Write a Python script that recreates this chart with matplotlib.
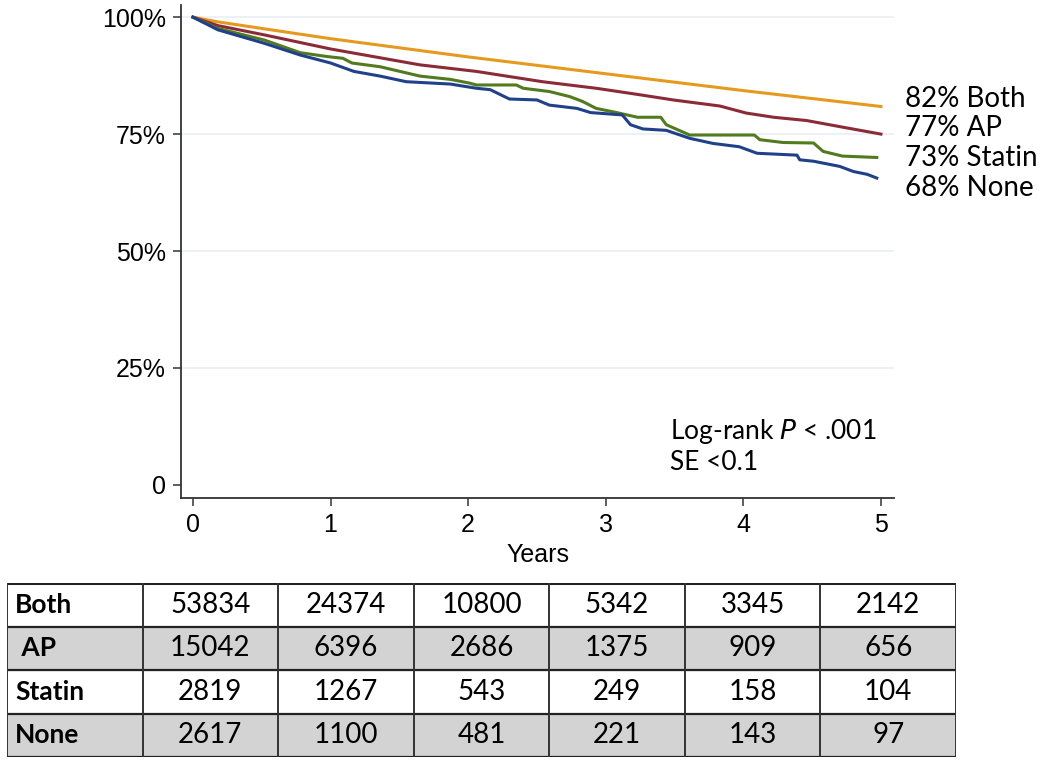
import matplotlib
matplotlib.use("Agg")
import matplotlib.pyplot as plt
from matplotlib.ticker import FixedLocator

# Kaplan-Meier curves (years, survival fraction)
both_t = [0, 0.18, 0.52, 1.0, 2.0, 3.0, 4.0, 5.0]
both_s = [1.0, 0.99, 0.975, 0.954, 0.915, 0.879, 0.843, 0.809]

ap_t = [0, 0.18, 0.52, 1.0, 1.65, 2.06, 2.54, 2.93, 3.25, 3.49, 3.83, 4.02, 4.22, 4.46, 4.70, 5.0]
ap_s = [1.0, 0.982, 0.962, 0.932, 0.898, 0.884, 0.862, 0.848, 0.834, 0.823, 0.810, 0.795, 0.786, 0.779, 0.766, 0.750]

statin_t = [0, 0.18, 0.52, 0.78, 0.97, 1.09, 1.155, 1.36, 1.65, 1.87, 2.01, 2.06, 2.35, 2.40,
            2.59, 2.74, 2.83, 2.93, 3.08, 3.23, 3.40, 3.44, 3.61, 4.08, 4.12, 4.29, 4.51, 4.58, 4.72, 4.97]
statin_s = [1.0, 0.976, 0.951, 0.924, 0.916, 0.912, 0.902, 0.894, 0.874, 0.867, 0.859, 0.855, 0.855, 0.848,
            0.841, 0.830, 0.820, 0.805, 0.796, 0.786, 0.786, 0.770, 0.748, 0.748, 0.738, 0.732, 0.731, 0.713, 0.703, 0.700]

none_t = [0, 0.18, 0.52, 0.78, 1.0, 1.17, 1.36, 1.55, 1.87, 2.06, 2.16, 2.30, 2.50, 2.59, 2.79, 2.89,
          3.12, 3.18, 3.27, 3.44, 3.61, 3.78, 3.97, 4.10, 4.39, 4.41, 4.51, 4.70, 4.80, 4.90, 4.97]
none_s = [1.0, 0.973, 0.944, 0.919, 0.902, 0.884, 0.874, 0.862, 0.857, 0.848, 0.845, 0.825, 0.823, 0.812, 0.805, 0.796,
          0.791, 0.770, 0.761, 0.758, 0.741, 0.730, 0.723, 0.709, 0.705, 0.695, 0.692, 0.681, 0.670, 0.664, 0.656]

end_labels = ['82% Both', '77% AP', '73% Statin', '68% None']

y_ticks = [0, 0.25, 0.5, 0.75, 1.0]
y_tick_labels = ['0', '25%', '50%', '75%', '100%']
x_ticks = [0, 1, 2, 3, 4, 5]

# numbers at risk
risk_groups = ['Both', ' AP', 'Statin', 'None']
risk_both = [53834, 24374, 10800, 5342, 3345, 2142]
risk_ap = [15042, 6396, 2686, 1375, 909, 656]
risk_statin = [2819, 1267, 543, 249, 158, 104]
risk_none = [2617, 1100, 481, 221, 143, 97]

C_BOTH = '#e59a1f'
C_AP = '#8b2b37'
C_STATIN = '#527a1e'
C_NONE = '#20418a'

TICK_FONT = 'Liberation Sans'
TEXT_FONT = 'Lato'

fig = plt.figure(figsize=(10.5, 7.6), dpi=100)
ax = fig.add_axes([181 / 1050, 1 - 498 / 760, (894 - 181) / 1050, (498 - 5) / 760])

ax.plot(both_t, both_s, color=C_BOTH, lw=2.2)
ax.plot(ap_t, ap_s, color=C_AP, lw=2.2)
ax.plot(statin_t, statin_s, color=C_STATIN, lw=2.2)
ax.plot(none_t, none_s, color=C_NONE, lw=2.2)

ax.set_xlim(-0.087, 5.095)
ax.set_ylim(-0.028, 1.026)
ax.yaxis.set_major_locator(FixedLocator(y_ticks))
ax.set_yticklabels(y_tick_labels)
ax.xaxis.set_major_locator(FixedLocator(x_ticks))
for yv in y_ticks[1:]:
    ax.axhline(yv, color='#e8eef2', lw=1.1, zorder=0)

for side in ('top', 'right'):
    ax.spines[side].set_visible(False)
for side in ('left', 'bottom'):
    ax.spines[side].set_color('#333333')
    ax.spines[side].set_linewidth(1.3)
ax.tick_params(axis='both', length=6, width=1.1, color='#333333', labelsize=18, pad=5)
for lab in ax.get_xticklabels() + ax.get_yticklabels():
    lab.set_fontfamily(TICK_FONT)
ax.set_xlabel('Years', fontsize=18, family=TICK_FONT, labelpad=4)

for i, txt in enumerate(end_labels):
    fig.text(905 / 1050, 1 - (99 + 29.5 * i) / 760, txt, fontsize=20, family=TEXT_FONT,
             va='center', ha='left')

fig.text(670 / 1050, 1 - 432 / 760, 'Log-rank $\\it{P}$ < .001',
         fontsize=19, family=TEXT_FONT, va='center', ha='left')
fig.text(670 / 1050, 1 - 462 / 760, 'SE <0.1',
         fontsize=19, family=TEXT_FONT, va='center', ha='left')

# numbers-at-risk table
tax = fig.add_axes([7 / 1050, 1 - 757 / 760, (956 - 7) / 1050, (757 - 583) / 760])
tax.set_xlim(0, 7)
tax.set_ylim(4, 0)
tax.axis('off')
rows = [risk_both, risk_ap, risk_statin, risk_none]
for i, (name, vals) in enumerate(zip(risk_groups, rows)):
    if i % 2 == 1:
        tax.axhspan(i, i + 1, color='#d3d3d3', zorder=0)
    tax.text(0.06, i + 0.5, name, fontsize=19, fontweight='bold', family=TEXT_FONT,
             va='center', ha='left')
    for j, v in enumerate(vals):
        tax.text(j + 1.5, i + 0.5, str(v), fontsize=20, family=TEXT_FONT, va='center', ha='center')
for k in range(5):
    tax.axhline(k, color='#222222', lw=2.2 if k == 0 else 1.6)
for k in range(8):
    tax.axvline(k, color='#333333', lw=1.4)

fig.savefig('out.png', dpi=100)
